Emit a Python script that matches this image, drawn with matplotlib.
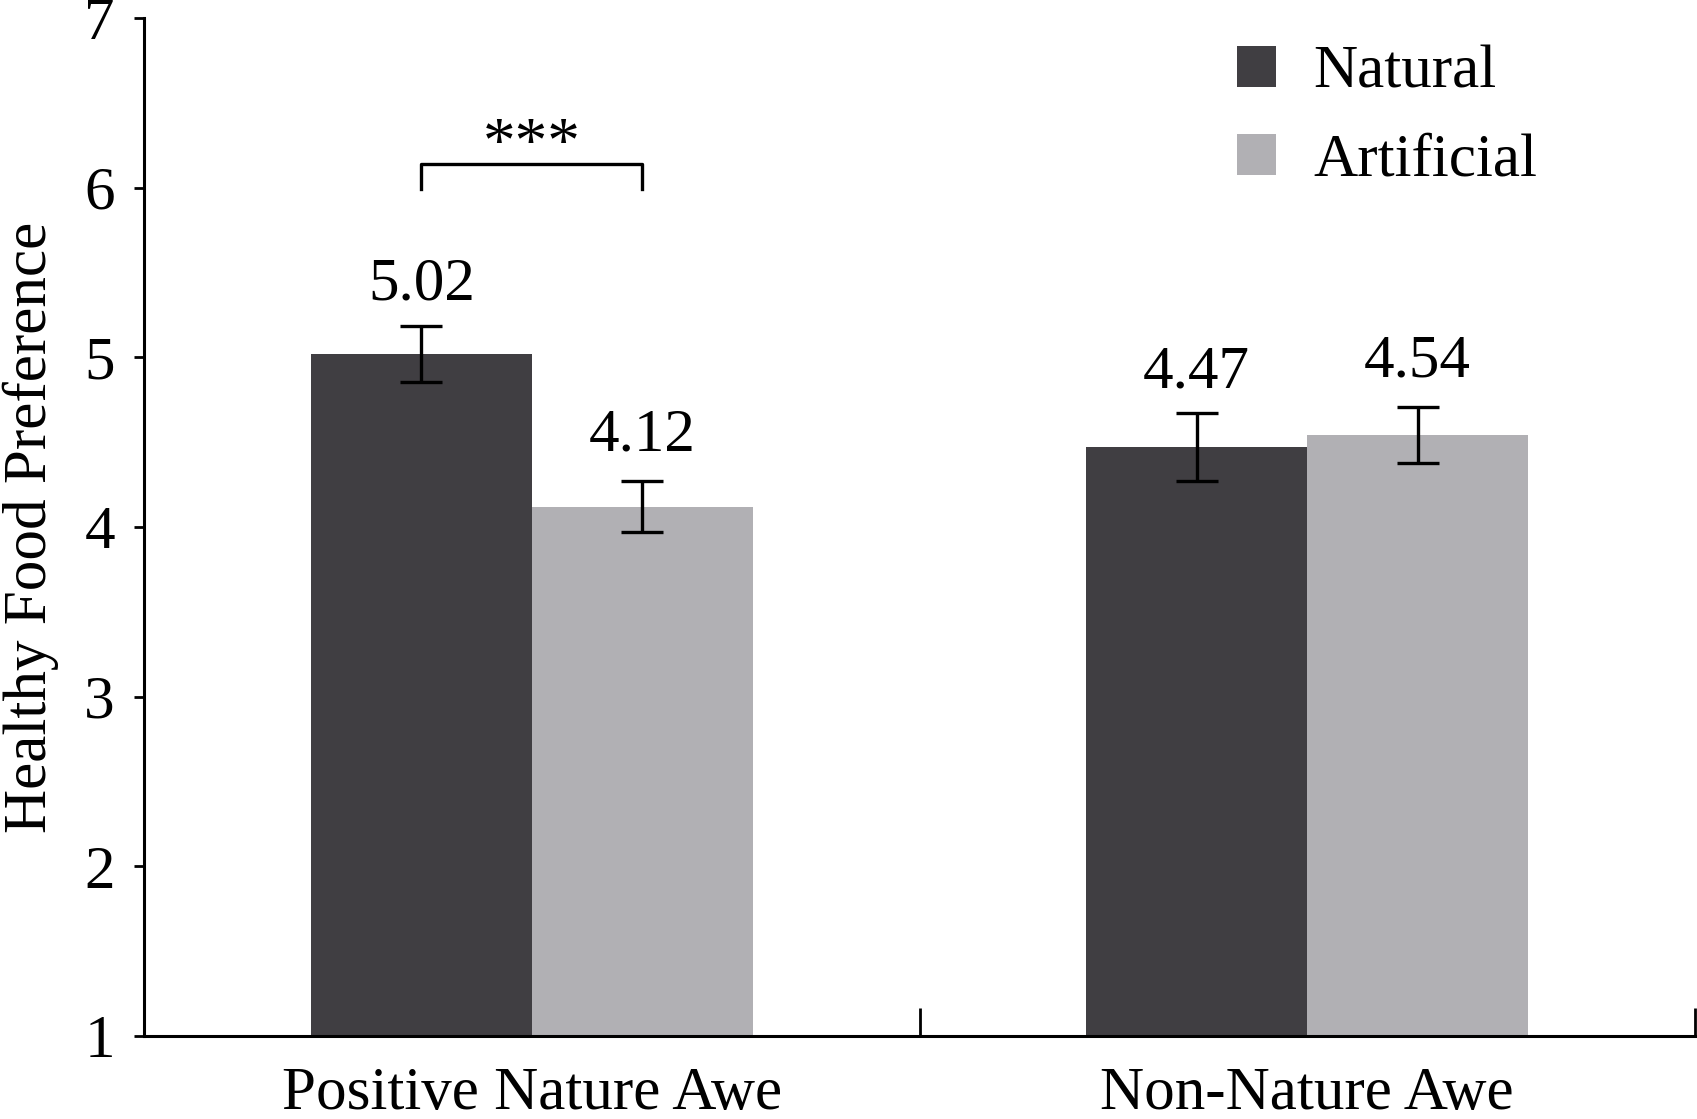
import numpy as np
import matplotlib
matplotlib.use("Agg")
import matplotlib.pyplot as plt

groups = ["Positive Nature Awe", "Non-Nature Awe"]
series = ["Natural", "Artificial"]
natural = [5.02, 4.47]
artificial = [4.12, 4.54]
natural_err = [0.165, 0.20]
artificial_err = [0.15, 0.165]
value_labels_nat = ["5.02", "4.47"]
value_labels_art = ["4.12", "4.54"]
sig_text = "***"

DARK = "#403e42"
LIGHT = "#b1b0b4"

plt.rcParams["font.family"] = ["Liberation Serif", "DejaVu Serif"]
FS = 44

fig = plt.figure(figsize=(16.97, 11.19), dpi=100)
ax = fig.add_axes([0.0849, 0.0742, 0.9139, 0.9098])

x = np.arange(len(groups))
w = 0.285
ekw = dict(elinewidth=2.4, capthick=2.4, ecolor="black")
ax.bar(x - w / 2, natural, w, color=DARK, label=series[0],
       yerr=natural_err, capsize=15, error_kw=ekw)
ax.bar(x + w / 2, artificial, w, color=LIGHT, label=series[1],
       yerr=artificial_err, capsize=15, error_kw=ekw)

for xi, v, e, s in zip(x - w / 2, natural, natural_err, value_labels_nat):
    ax.text(xi, v + e + 0.24, s, ha="center", va="center", fontsize=FS)
for xi, v, e, s in zip(x + w / 2, artificial, artificial_err, value_labels_art):
    ax.text(xi, v + e + 0.27, s, ha="center", va="center", fontsize=FS)

# significance bracket over the first group
bx0, bx1 = x[0] - w / 2, x[0] + w / 2
ax.plot([bx0, bx0, bx1, bx1], [5.99, 6.14, 6.14, 5.99], color="black", lw=2.4)
ax.text(x[0], 6.07, sig_text, ha="center", va="bottom", fontsize=47)

ax.set_ylim(1, 7)
ax.set_xlim(-0.5, 1.5)
ax.set_yticks(range(1, 8))
ax.set_ylabel("Healthy Food Preference", fontsize=FS, labelpad=18)

ax.set_xticks(x)
ax.set_xticklabels(groups, fontsize=FS)
ax.set_xticks([0.5, 1.5], minor=True)
ax.tick_params(axis="x", which="major", length=0, pad=22)
ax.tick_params(axis="x", which="minor", direction="in", length=20, width=2)
ax.tick_params(axis="y", direction="out", length=7, width=2, labelsize=FS, pad=14)

for side in ["top", "right"]:
    ax.spines[side].set_visible(False)
for side in ["left", "bottom"]:
    ax.spines[side].set_linewidth(2.2)

ax.legend(loc="upper left", bbox_to_anchor=(0.669, 1.027), frameon=False,
          fontsize=FS, handlelength=0.65, handleheight=0.65, handletextpad=0.6,
          labelspacing=0.53)

fig.savefig("out.png", dpi=100)
